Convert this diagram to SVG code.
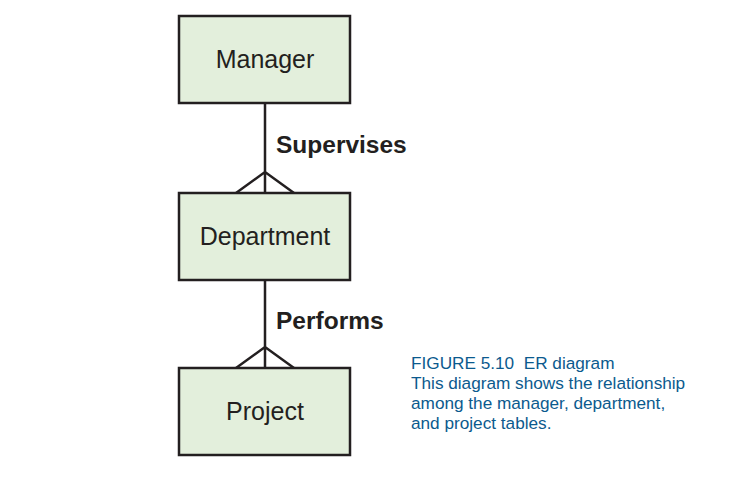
<svg xmlns="http://www.w3.org/2000/svg" width="736" height="478" viewBox="0 0 736 478">
<style>
.box{fill:#e3efdc;stroke:#231f20;stroke-width:2.5}
.lbl{font-family:"Liberation Sans",Arial,sans-serif;font-size:25px;fill:#231f20;text-anchor:middle}
.rel{font-family:"Liberation Sans",Arial,sans-serif;font-size:24.5px;font-weight:bold;fill:#231f20}
.cap{font-family:"Liberation Sans",Arial,sans-serif;font-size:17.2px;fill:#0b5a8e}
.ln{stroke:#231f20;stroke-width:2.5;fill:none}
</style>
<rect width="736" height="478" fill="#fff"/>
<g id="connectors">
<path class="ln" d="M265 103V193M236 193L265 172L294 193"/>
<path class="ln" d="M265 280V368M236 368L265 347L294 368"/>
<text class="rel" x="276" y="153">Supervises</text>
<text class="rel" x="276" y="329">Performs</text>
</g>
<g id="manager"><rect class="box" x="179" y="16" width="171" height="87"/><text class="lbl" x="265" y="68">Manager</text></g>
<g id="department"><rect class="box" x="179" y="193" width="171" height="87"/><text class="lbl" x="265" y="245">Department</text></g>
<g id="project"><rect class="box" x="179" y="368" width="171" height="87"/><text class="lbl" x="265" y="420">Project</text></g>
<g id="caption">
<text class="cap" x="411" y="369" xml:space="preserve">FIGURE 5.10  ER diagram</text>
<text class="cap" x="411" y="389">This diagram shows the relationship</text>
<text class="cap" x="411" y="409">among the manager, department,</text>
<text class="cap" x="411" y="429">and project tables.</text>
</g>
</svg>
